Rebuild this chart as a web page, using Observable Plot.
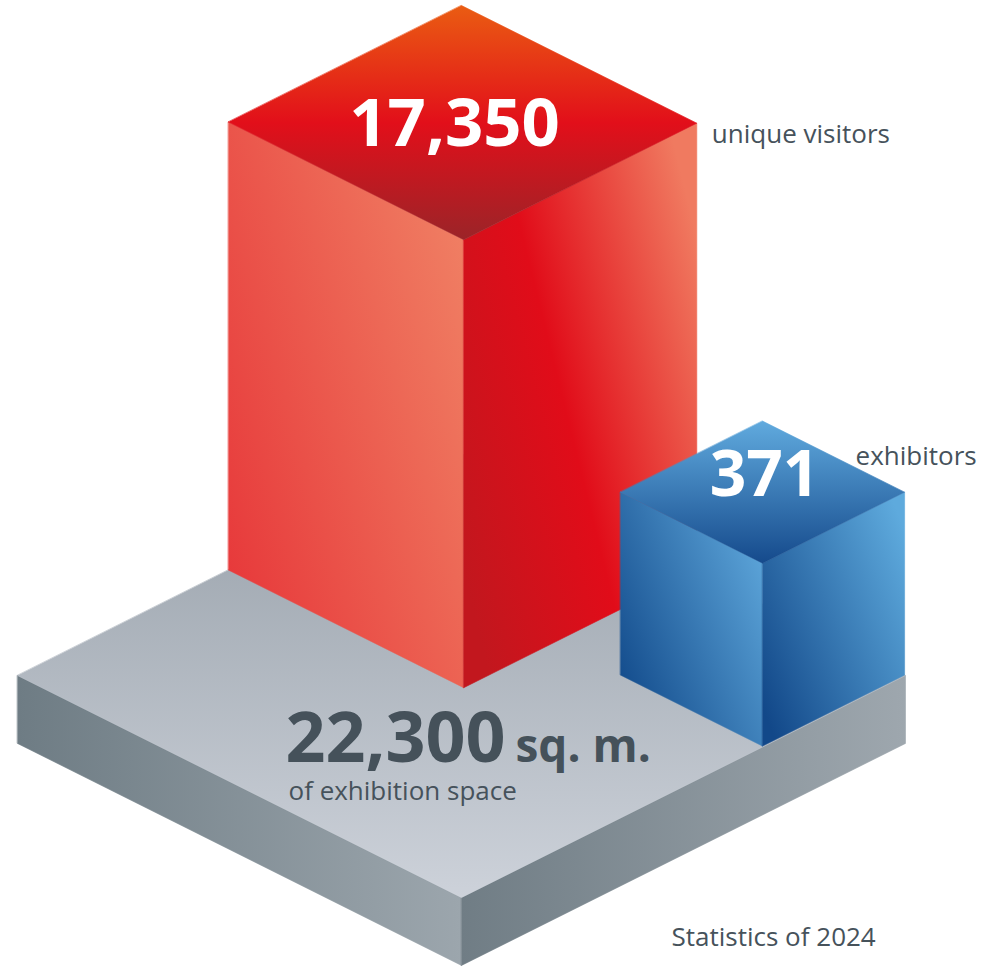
<!DOCTYPE html>
<html>
<head>
<meta charset="utf-8">
<script src="https://cdn.jsdelivr.net/npm/d3@7"></script>
<script src="https://cdn.jsdelivr.net/npm/@observablehq/plot@0.6"></script>
<style>
  html, body { margin: 0; padding: 0; background: #ffffff; }
  #chart svg { display: block; }
</style>
</head>
<body>
<div id="chart"></div>
<script>
// ---- data ----
const metrics = ["unique visitors", "exhibitors", "of exhibition space"];
const values = [17350, 371, 22300];
const units = ["", "", "sq. m."];
const caption = "Statistics of 2024";

// ---- layout (isometric space: u = right-down, v = left-down, z = up) ----
const W = 982, H = 967;
const K = 44.4;          // pixels per iso unit
const OX = 461, OY = 453; // screen position of the slab's back corner
const slab = {u: [0, 10], v: [0, 10], z: [-1.53, 0]};
const redBox = {u: [0, 5.3], v: [0, 5.25], z: [0, 10.09]};
const blueBox = {u: [6.78, 9.98], v: [0, 3.2], z: [0, 4.12]};

const iso = (u, v, z) => ({x: u - v, y: z - (u + v) / 2});

function boxFaces(box, prefix) {
  const [u0, u1] = box.u, [v0, v1] = box.v, [z0, z1] = box.z;
  return [
    {id: prefix + "Left",  pts: [[u0, v1, z1], [u1, v1, z1], [u1, v1, z0], [u0, v1, z0]]},
    {id: prefix + "Right", pts: [[u1, v1, z1], [u1, v0, z1], [u1, v0, z0], [u1, v1, z0]]},
    {id: prefix + "Top",   pts: [[u0, v0, z1], [u1, v0, z1], [u1, v1, z1], [u0, v1, z1]]}
  ].map(f => ({id: f.id, pts: f.pts.map(p => iso(...p))}));
}

const gradients = {
  slabTop:   {x1: 0, y1: 0, x2: 0, y2: 1, stops: [[0, "#969fa8"], [1, "#cdd2da"]]},
  slabLeft:  {x1: 0, y1: 0, x2: 1, y2: 0, stops: [[0, "#6e7c84"], [1, "#9ca6ad"]]},
  slabRight: {x1: 0, y1: 0, x2: 1, y2: 0, stops: [[0, "#707d85"], [1, "#9ea7ae"]]},
  redTop:    {x1: 0, y1: 0, x2: 0, y2: 1, stops: [[0, "#ea5c12"], [0.5, "#e20f1a"], [1, "#9b2428"]]},
  redLeft:   {x1: 0, y1: 0.85, x2: 1, y2: 0.15, stops: [[0, "#e7383a"], [1, "#f08064"]]},
  redRight:  {x1: 0, y1: 0.8, x2: 1, y2: 0.2, stops: [[0, "#c2171e"], [0.45, "#e10c19"], [1, "#f07a60"]]},
  blueTop:   {x1: 0, y1: 0, x2: 0, y2: 1, stops: [[0, "#60aade"], [1, "#154a8c"]]},
  blueLeft:  {x1: 0, y1: 0.85, x2: 1, y2: 0.15, stops: [[0, "#104889"], [1, "#5fa8dc"]]},
  blueRight: {x1: 0, y1: 0.85, x2: 1, y2: 0.15, stops: [[0, "#124889"], [1, "#5eaadd"]]}
};

function defsMark() {
  const defs = d3.create("svg:defs");
  for (const [id, g] of Object.entries(gradients)) {
    const lg = defs.append("linearGradient").attr("id", id)
      .attr("x1", g.x1).attr("y1", g.y1).attr("x2", g.x2).attr("y2", g.y2);
    for (const [o, c] of g.stops) lg.append("stop").attr("offset", o).attr("stop-color", c);
  }
  return defs.node();
}

const faces = [
  ...boxFaces(slab, "slab"),
  ...boxFaces(redBox, "red"),
  ...boxFaces(blueBox, "blue")
];

const fmt = d3.format(",");
const textColor = "#46525b";
const font = "'Open Sans', 'Noto Sans', sans-serif";

// anchors for labels
const redTopC = iso((redBox.u[0] + redBox.u[1]) / 2, (redBox.v[0] + redBox.v[1]) / 2, redBox.z[1]);
const redTopR = iso(redBox.u[1], redBox.v[0], redBox.z[1]);
const blueTopC = iso((blueBox.u[0] + blueBox.u[1]) / 2, (blueBox.v[0] + blueBox.v[1]) / 2, blueBox.z[1]);
const blueTopB = iso(blueBox.u[0], blueBox.v[0], blueBox.z[1]);
const slabC = iso(5, 5, 0);
const slabFrontB = iso(slab.u[1], slab.v[1], slab.z[0]);

const txt = (p, text, o) => Plot.text([p], {x: "x", y: "y", text: () => text, fontFamily: font, lineAnchor: "bottom", ...o});

const chart = Plot.plot({
  width: W,
  height: H,
  margin: 0,
  style: {background: "#ffffff", overflow: "visible"},
  x: {domain: [-OX / K, (W - OX) / K], range: [0, W], axis: null},
  y: {domain: [(OY - H) / K, OY / K], range: [H, 0], axis: null},
  marks: [
    defsMark,
    ...faces.map(f => Plot.line(f.pts, {
      x: "x", y: "y", curve: "linear-closed",
      fill: `url(#${f.id})`, stroke: `url(#${f.id})`, strokeWidth: 0.6
    })),
    txt(redTopC, fmt(values[0]), {fill: "white", fontWeight: "bold", fontSize: 67, textAnchor: "middle", dx: -8, dy: 23}),
    txt(blueTopC, fmt(values[1]), {fill: "white", fontWeight: "bold", fontSize: 64, textAnchor: "middle", dx: 2, dy: 4}),
    txt(redTopR, metrics[0], {fill: textColor, fontSize: 26, textAnchor: "start", dx: 15, dy: 20}),
    txt(blueTopB, metrics[1], {fill: textColor, fontSize: 26, textAnchor: "start", dx: 93, dy: 44}),
    txt(slabC, fmt(values[2]), {fill: "#45515a", fontWeight: "bold", fontSize: 70, textAnchor: "start", dx: -176, dy: 86}),
    txt(slabC, units[2], {fill: "#45515a", fontWeight: "bold", fontSize: 46, textAnchor: "start", dx: 54, dy: 86}),
    txt(slabC, metrics[2], {fill: textColor, fontSize: 26, textAnchor: "start", dx: -173, dy: 124}),
    txt(slabFrontB, caption, {fill: textColor, fontSize: 26, textAnchor: "start", dx: 210, dy: -19})
  ]
});

document.getElementById("chart").appendChild(chart);
</script>
</body>
</html>
